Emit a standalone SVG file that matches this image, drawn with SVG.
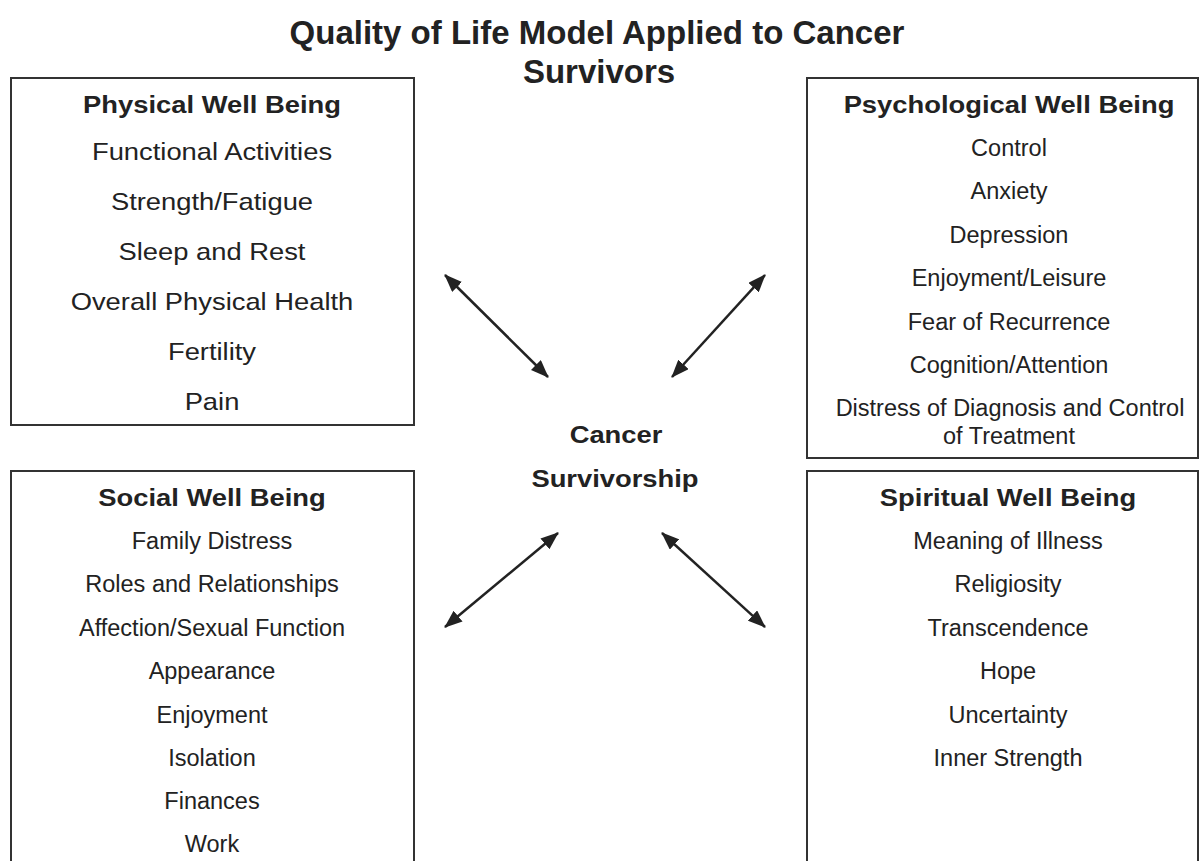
<svg xmlns="http://www.w3.org/2000/svg" width="1200" height="861" viewBox="0 0 1200 861">
  <style>
    text { font-family: "Liberation Sans", Arial, sans-serif; fill: #222; text-anchor: middle; }
    .title { font-size: 33px; font-weight: bold; }
    .head { font-size: 24px; font-weight: bold; }
    .big { font-size: 24px; }
    .item { font-size: 23.5px; }
    .wide { transform-box: fill-box; transform-origin: center; transform: scaleX(1.14); }
    .box { fill: #fff; stroke: #333; stroke-width: 2; }
    .conn { stroke: #222; stroke-width: 2.5; fill: none; marker-start: url(#ah); marker-end: url(#ah); }
  </style>
  <defs>
    <marker id="ah" markerUnits="userSpaceOnUse" markerWidth="18" markerHeight="14" refX="17" refY="7" orient="auto-start-reverse">
      <path d="M0,0 L18,7 L0,14 z" fill="#222"/>
    </marker>
  </defs>
  <rect width="1200" height="861" fill="#fff"/>

  <g id="title">
    <text class="title" x="597" y="44">Quality of Life Model Applied to Cancer</text>
    <text class="title" x="599" y="83">Survivors</text>
  </g>

  <g id="physical">
    <rect class="box" x="11" y="78" width="403" height="347"/>
    <text class="head wide" x="212" y="113">Physical Well Being</text>
    <text class="big wide" x="212" y="160">Functional Activities</text>
    <text class="big wide" x="212" y="210">Strength/Fatigue</text>
    <text class="big wide" x="212" y="260">Sleep and Rest</text>
    <text class="big wide" x="212" y="310">Overall Physical Health</text>
    <text class="big wide" x="212" y="360">Fertility</text>
    <text class="big wide" x="212" y="410">Pain</text>
  </g>

  <g id="psychological">
    <rect class="box" x="807" y="78" width="391" height="380"/>
    <text class="head wide" x="1009" y="113">Psychological Well Being</text>
    <text class="item" x="1009" y="156">Control</text>
    <text class="item" x="1009" y="199">Anxiety</text>
    <text class="item" x="1009" y="243">Depression</text>
    <text class="item" x="1009" y="286">Enjoyment/Leisure</text>
    <text class="item" x="1009" y="330">Fear of Recurrence</text>
    <text class="item" x="1009" y="373">Cognition/Attention</text>
    <text class="item" x="1010" y="416">Distress of Diagnosis and Control</text>
    <text class="item" x="1009" y="444">of Treatment</text>
  </g>

  <g id="social">
    <rect class="box" x="11" y="471" width="403" height="400"/>
    <text class="head wide" x="212" y="506">Social Well Being</text>
    <text class="item" x="212" y="549">Family Distress</text>
    <text class="item" x="212" y="592">Roles and Relationships</text>
    <text class="item" x="212" y="636">Affection/Sexual Function</text>
    <text class="item" x="212" y="679">Appearance</text>
    <text class="item" x="212" y="723">Enjoyment</text>
    <text class="item" x="212" y="766">Isolation</text>
    <text class="item" x="212" y="809">Finances</text>
    <text class="item" x="212" y="852">Work</text>
  </g>

  <g id="spiritual">
    <rect class="box" x="807" y="471" width="391" height="400"/>
    <text class="head wide" x="1008" y="506">Spiritual Well Being</text>
    <text class="item" x="1008" y="549">Meaning of Illness</text>
    <text class="item" x="1008" y="592">Religiosity</text>
    <text class="item" x="1008" y="636">Transcendence</text>
    <text class="item" x="1008" y="679">Hope</text>
    <text class="item" x="1008" y="723">Uncertainty</text>
    <text class="item" x="1008" y="766">Inner Strength</text>
  </g>

  <g id="center">
    <text class="head wide" x="616" y="443">Cancer</text>
    <text class="head wide" x="615" y="487">Survivorship</text>
  </g>

  <g id="connectors">
    <line class="conn" x1="445" y1="275" x2="548" y2="377"/>
    <line class="conn" x1="765" y1="275" x2="672" y2="377"/>
    <line class="conn" x1="558" y1="533" x2="445" y2="627"/>
    <line class="conn" x1="662" y1="533" x2="765" y2="627"/>
  </g>
</svg>
